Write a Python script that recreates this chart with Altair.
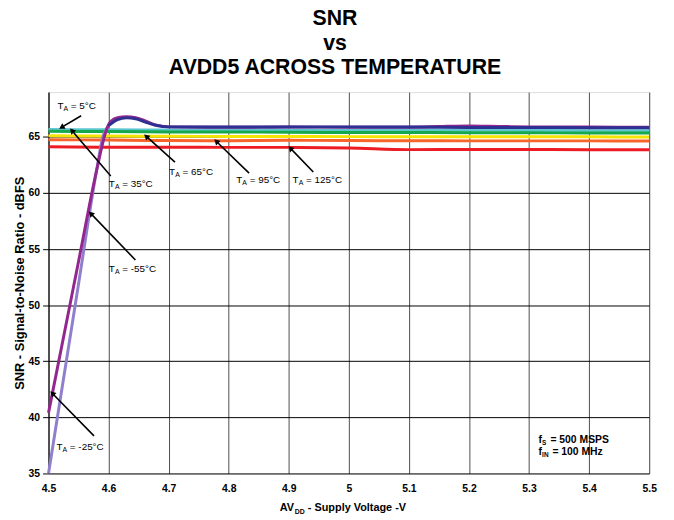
import math
import altair as alt
import pandas as pd

FONT = "Liberation Sans"
NARROW = "Liberation Sans Narrow, Liberation Sans"
W, H = 608, 386
X_DOM = [4.5, 5.5]
Y_DOM = [35, 69]
PX_X = W / (X_DOM[1] - X_DOM[0])
PX_Y = H / (Y_DOM[1] - Y_DOM[0])

# ---- series data ----
x_flat = [4.5, 4.6, 4.7, 4.8, 4.9, 5.0, 5.1, 5.2, 5.3, 5.4, 5.5]
y_5 = [65.66, 65.64, 65.62, 65.62, 65.62, 65.60, 65.60, 65.60, 65.58, 65.56, 65.55]
y_35 = [65.50, 65.48, 65.45, 65.44, 65.42, 65.40, 65.40, 65.38, 65.37, 65.36, 65.35]
y_65 = [65.10, 65.08, 65.06, 65.05, 65.05, 65.03, 65.02, 65.02, 65.02, 65.01, 65.00]
y_95 = [64.76, 64.72, 64.68, 64.66, 64.70, 64.68, 64.66, 64.65, 64.65, 64.65, 64.64]
y_125 = [64.12, 64.08, 64.08, 64.07, 64.07, 64.02, 63.87, 63.88, 63.88, 63.86, 63.85]

x_m55_rise = [4.50, 4.55, 4.58, 4.59, 4.60]
y_m55_rise = [35.0, 51.9, 62.0, 64.9, 66.0]
x_m55 = [4.60, 4.615, 4.63, 4.645, 4.66, 4.68, 4.70, 4.80, 4.90, 5.00, 5.10, 5.20, 5.30, 5.40, 5.50]
y_m55 = [66.0, 66.55, 66.70, 66.62, 66.35, 66.02, 65.90, 65.88, 65.90, 65.90, 65.88, 65.85, 65.84, 65.83, 65.82]
x_m25 = [4.50, 4.55, 4.58, 4.595, 4.60, 4.605, 4.615, 4.63, 4.645, 4.66, 4.68, 4.70, 4.80, 4.90,
         5.00, 5.10, 5.15, 5.20, 5.25, 5.30, 5.40, 5.50]
y_m25 = [40.4, 53.9, 62.0, 65.4, 66.1, 66.45, 66.72, 66.80, 66.72, 66.45, 66.05, 65.90, 65.87, 65.88,
         65.87, 65.87, 65.93, 65.98, 65.94, 65.90, 65.88, 65.87]

series = [
    ("5", x_flat, y_5, "#5cc6d0"),
    ("35", x_flat, y_35, "#17a84b"),
    ("65", x_flat, y_65, "#f5e400"),
    ("95", x_flat, y_95, "#f7652b"),
    ("125", x_flat, y_125, "#ed1c24"),
    ("-55 rise", x_m55_rise, y_m55_rise, "#8f7fcc"),
    ("-25", x_m25, y_m25, "#92278f"),
    ("-55", x_m55, y_m55, "#2e3192"),
]

# ---- annotation data ----
lab_text = ["= 5°C", "= 35°C", "= 65°C", "= 95°C", "= 125°C", "= -55°C", "= -25°C"]
lab_x = [4.5148, 4.6003, 4.7007, 4.8125, 4.9063, 4.6003, 4.5132]
lab_y = [67.77, 60.81, 61.87, 61.16, 61.16, 53.23, 37.38]
arr_tail_x = [4.5543, 4.6036, 4.7105, 4.8339, 4.9408, 4.6447, 4.5757]
arr_tail_y = [66.89, 61.51, 62.75, 61.78, 61.87, 54.03, 38.35]
arr_tip_x = [4.5181, 4.5362, 4.6595, 4.7763, 4.8997, 4.5674, 4.5033]
arr_tip_y = [65.74, 65.74, 65.21, 64.77, 64.16, 58.34, 42.31]

cond_x = 5.3158
cond_y = [37.95, 36.93]
cond_sub = ["S", "IN"]
cond_rest = ["= 500 MSPS", "= 100 MHz"]
cond_dx = [12, 14]

x_ticks = [4.5, 4.6, 4.7, 4.8, 4.9, 5.0, 5.1, 5.2, 5.3, 5.4, 5.5]
y_ticks = [35, 40, 45, 50, 55, 60, 65]

xs = alt.Scale(domain=X_DOM, nice=False, zero=False)
ys = alt.Scale(domain=Y_DOM, nice=False, zero=False)

x_axis = alt.Axis(values=x_ticks, format="~g", title=None, grid=True, gridColor="#4d4d4d",
                  ticks=False, domain=False, labelFont=NARROW, labelFontWeight="bold",
                  labelFontSize=10.5, labelPadding=10, labelColor="black", labelFlush=False)
y_axis = alt.Axis(values=y_ticks, title="SNR - Signal-to-Noise Ratio - dBFS", grid=True,
                  gridColor="black", tickSize=6, tickColor="black", domainColor="black",
                  labelFont=NARROW, labelFontWeight="bold", labelFontSize=10.5, labelPadding=3,
                  labelColor="black", labelFlush=False, titleFont=FONT, titleFontWeight="bold",
                  titleFontSize=13, titleX=-29, titleY=H / 2, titleAngle=270, titleAlign="center",
                  titleBaseline="middle", titleColor="black")


def X(field):
    return alt.X(field, scale=xs, axis=x_axis)


def Y(field):
    return alt.Y(field, scale=ys, axis=y_axis)


layers = []
for name, xv, yv, col in series:
    df = pd.DataFrame({"x": xv, "y": yv, "s": name})
    layers.append(alt.Chart(df).mark_line(color=col, strokeWidth=3, interpolate="monotone").encode(
        x=X("x:Q"), y=Y("y:Q")))

# arrows
rows = []
for tx, ty, px, py in zip(arr_tail_x, arr_tail_y, arr_tip_x, arr_tip_y):
    sx = (px - tx) * PX_X
    sy = -(py - ty) * PX_Y
    ln = math.hypot(sx, sy)
    ux, uy = sx / ln, sy / ln
    hx = px - 3.5 * ux / PX_X
    hy = py + 3.5 * uy / PX_Y
    ang = math.degrees(math.atan2(sx, -sy)) % 360
    rows.append({"tx": tx, "ty": ty, "hx": hx, "hy": hy, "ang": ang})
arr = pd.DataFrame(rows)
layers.append(alt.Chart(arr).mark_rule(color="black", strokeWidth=1.6).encode(
    x=X("tx:Q"), y=Y("ty:Q"), x2="hx:Q", y2="hy:Q"))
layers.append(alt.Chart(arr).mark_point(shape="triangle", filled=True, color="black", opacity=1,
                                        size=42, strokeWidth=0).encode(
    x=X("hx:Q"), y=Y("hy:Q"), angle=alt.Angle("ang:Q", scale=None)))

# labels  T_A = ..°C
lab = pd.DataFrame({"x": lab_x, "y": lab_y, "rest": lab_text})
base = alt.Chart(lab).encode(x=X("x:Q"), y=Y("y:Q"))
layers.append(base.mark_text(align="left", baseline="middle", font=FONT, fontSize=10,
                             color="black").encode(text=alt.value("T")))
layers.append(base.mark_text(align="left", baseline="middle", font=FONT, fontSize=7, dx=6.2, dy=3,
                             color="black").encode(text=alt.value("A")))
layers.append(base.mark_text(align="left", baseline="middle", font=FONT, fontSize=10, dx=13.6,
                             color="black").encode(text="rest:N"))

# conditions
cond = pd.DataFrame({"x": [cond_x] * 2, "y": cond_y, "sub": cond_sub, "rest": cond_rest, "dx": cond_dx})
for i in range(2):
    cb = alt.Chart(cond.iloc[[i]]).encode(x=X("x:Q"), y=Y("y:Q"))
    layers.append(cb.mark_text(align="left", baseline="middle", font=FONT, fontSize=10.5,
                               fontWeight="bold", color="black").encode(text=alt.value("f")))
    layers.append(cb.mark_text(align="left", baseline="middle", font=FONT, fontSize=6.5, dx=3.6, dy=3,
                               fontWeight="bold", color="black").encode(text="sub:N"))
    layers.append(cb.mark_text(align="left", baseline="middle", font=FONT, fontSize=10.5,
                               dx=cond_dx[i], fontWeight="bold", color="black").encode(text="rest:N"))

# x-axis title with subscript
xt = pd.DataFrame({"t": ["AV", "DD", "- Supply Voltage -V"], "dx": [0, 15.3, 28.5],
                   "fs": [11, 7, 11], "dy": [0, 3, 0]})
xt_x0 = 234
for i in range(3):
    layers.append(alt.Chart(xt.iloc[[i]]).mark_text(
        align="left", baseline="alphabetic", font=FONT, fontWeight="bold",
        fontSize=float(xt.fs[i]), color="black").encode(
        x=alt.value(xt_x0 + float(xt.dx[i])), y=alt.value(424 + float(xt.dy[i])), text="t:N"))

chart = alt.layer(*layers).properties(
    width=W, height=H,
    title=alt.TitleParams(text=["SNR", "vs", "AVDD5 ACROSS TEMPERATURE"], font=FONT, fontSize=21.5,
                          fontWeight="bold", color="black", anchor="middle", dx=-14, dy=23,
                          lineHeight=24.5, baseline="bottom", offset=15),
    padding={"left": 41, "top": 82, "right": 17, "bottom": 44},
    autosize=alt.AutoSizeParams(type="none"),
).configure_view(stroke="black", strokeWidth=1).configure(background="white")

chart.save("out.html", embed_options={"renderer": "svg", "actions": False})
